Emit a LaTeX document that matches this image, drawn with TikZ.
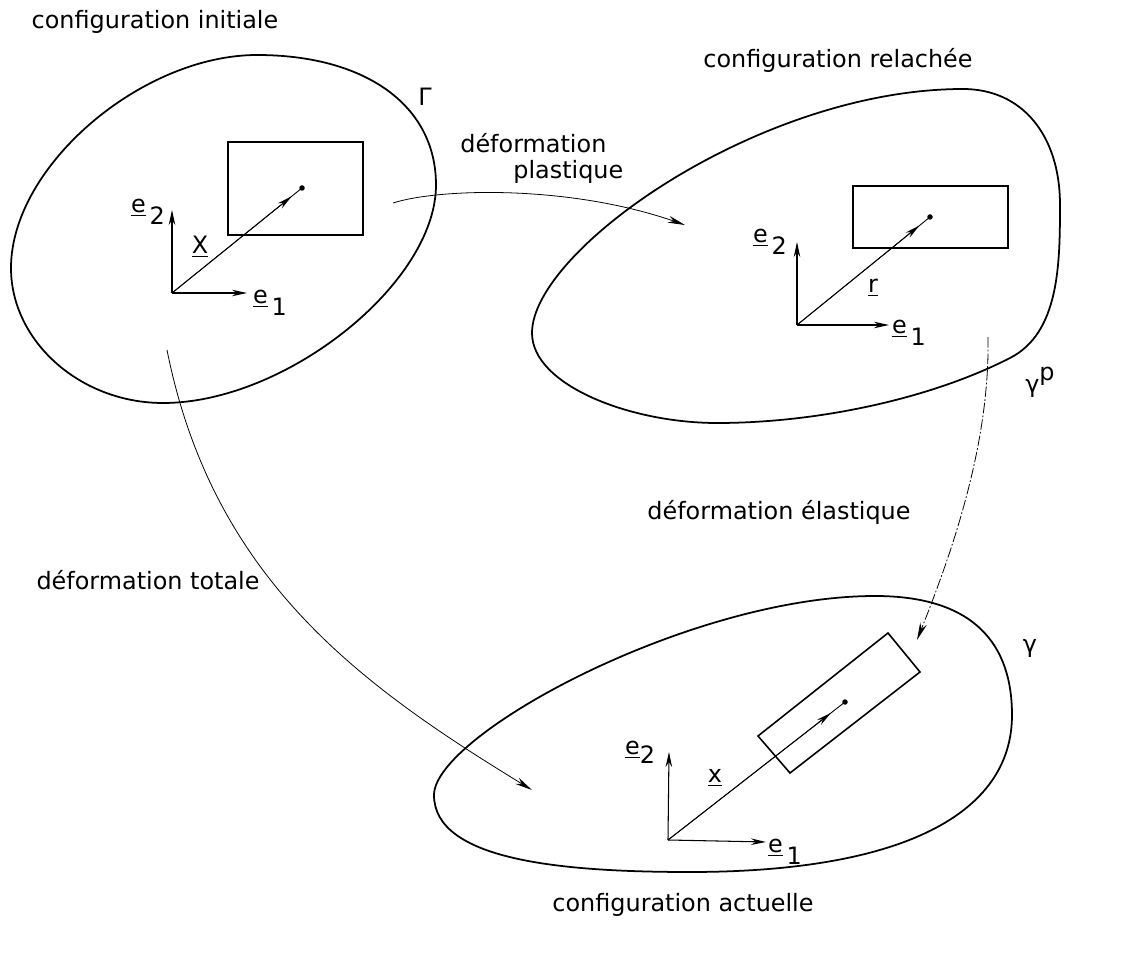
\documentclass[tikz,border=0pt]{standalone}
\usepackage{fontspec}
\setmainfont{DejaVu Sans}
\usetikzlibrary{arrows.meta,calc}

\newcommand{\ul}[1]{\underline{#1}}
\newcommand{\eidx}[1]{\ul{e}\,\raisebox{-0.9ex}{#1}}

\begin{document}
\begin{tikzpicture}[
  x=0.2mm, y=-0.2mm,
  lbl/.style={font=\fontsize{13.6}{16}\selectfont, inner sep=0pt},
  ctour/.style={line width=1pt},
  box/.style={line width=0.9pt},
  vec/.style={-{Stealth[length=3mm,width=1.3mm]}, line width=0.6pt},
  flow/.style={-{Stealth[length=3.5mm,width=1.4mm]}, line width=0.45pt},
  dot/.style={circle, fill, inner sep=0pt, minimum size=1.1mm}
]
\useasboundingbox (0,0) rectangle (1125,954);

% configurations (contours)
\draw[ctour] (257,55) .. controls (365,55) and (436,105) .. (436,185)
  .. controls (436,283) and (286,403) .. (163,403)
  .. controls (80,403) and (11,341) .. (11,268)
  .. controls (11,166) and (142,55) .. (257,55) -- cycle;
\draw[ctour] (963,89) .. controls (1022,89) and (1060,135) .. (1060,205)
  .. controls (1060,265) and (1059,333) .. (1010,358)
  .. controls (930,399) and (817,423) .. (717,423)
  .. controls (630,423) and (532,385) .. (532,333)
  .. controls (532,250) and (760,89) .. (963,89) -- cycle;
\draw[ctour] (875,596) .. controls (975,596) and (1012,645) .. (1012,715)
  .. controls (1012,815) and (900,872) .. (690,872)
  .. controls (560,872) and (434,860) .. (434,795)
  .. controls (434,735) and (690,596) .. (875,596) -- cycle;

% titles
\node[lbl] (tinit) at (155,22) {configuration initiale};
\node[lbl] (trel) at (838,60) {configuration relachée};
\node[lbl] (tact) at (683,905) {configuration actuelle};
\node[lbl] (bgam) at (425,97) {Γ};
\node[lbl] (bgamp) at (1040,382) {γ\raisebox{0.9ex}{p}};
\node[lbl] (bgam3) at (1030,648) {γ};

% initial configuration
\coordinate (o1) at (172,293);
\coordinate (a1) at (247,293);
\coordinate (b1) at (172,210);
\node[dot] (p1) at (302,188) {};
\draw[box] (228,142) rectangle (363,235);
\draw[vec] (o1) -- (a1);
\draw[vec] (o1) -- (b1);
\draw[line width=0.5pt] (o1) -- (p1.center);
\draw[vec,line width=0.5pt] (o1) -- ($(o1)!0.92!(p1)$);
\node[lbl] (e11) at (270,303) {\eidx{1}};
\node[lbl] (e12) at (148,212) {\eidx{2}};
\node[lbl] (lX) at (200,247) {\ul{X}};

% relaxed configuration
\coordinate (o2) at (797,325);
\coordinate (a2) at (889,325);
\coordinate (b2) at (797,242);
\node[dot] (p2) at (930,217) {};
\draw[box] (853,186) rectangle (1008,248);
\draw[vec] (o2) -- (a2);
\draw[vec] (o2) -- (b2);
\draw[line width=0.5pt] (o2) -- (p2.center);
\draw[vec,line width=0.5pt] (o2) -- ($(o2)!0.92!(p2)$);
\node[lbl] (e21) at (909,333) {\eidx{1}};
\node[lbl] (e22) at (770,242) {\eidx{2}};
\node[lbl] (lr) at (873,288) {\ul{r}};

% current configuration
\coordinate (o3) at (668,840);
\coordinate (a3) at (766,842);
\coordinate (b3) at (669,752);
\node[dot] (p3) at (845,702) {};
\draw[box] (758,736) -- (888,633) -- (920,672) -- (790,773) -- cycle;
\draw[vec] (o3) -- (a3);
\draw[vec] (o3) -- (b3);
\draw[line width=0.5pt] (o3) -- (p3.center);
\draw[vec,line width=0.5pt] (o3) -- ($(o3)!0.92!(p3)$);
\node[lbl] (e31) at (785,852) {\eidx{1}};
\node[lbl] (e32) at (640,752) {\ul{e}\raisebox{-0.7ex}{2}};
\node[lbl] (lx) at (715,778) {\ul{x}};

% deformations
\coordinate (plA) at (393,203);
\coordinate (plB) at (685,225);
\draw[flow] (plA) .. controls (440,188) and (570,185) .. (plB);
\node[lbl, anchor=west] (tpl1) at (460,143) {déformation};
\node[lbl, anchor=west] (tpl2) at (513,172) {plastique};

\coordinate (elA) at (988,337);
\coordinate (elB) at (917,640);
\draw[flow, dash pattern=on 6pt off 1.2pt on 1pt off 1.2pt] (elA) .. controls (990,440) and (955,545) .. (elB);
\node[lbl] (tel) at (779,512) {déformation élastique};

\coordinate (toA) at (167,350);
\coordinate (toB) at (532,790);
\draw[flow] (toA) .. controls (213,580) and (362,686) .. (toB);
\node[lbl] (tto) at (148,580) {déformation totale};
\end{tikzpicture}
\end{document}
